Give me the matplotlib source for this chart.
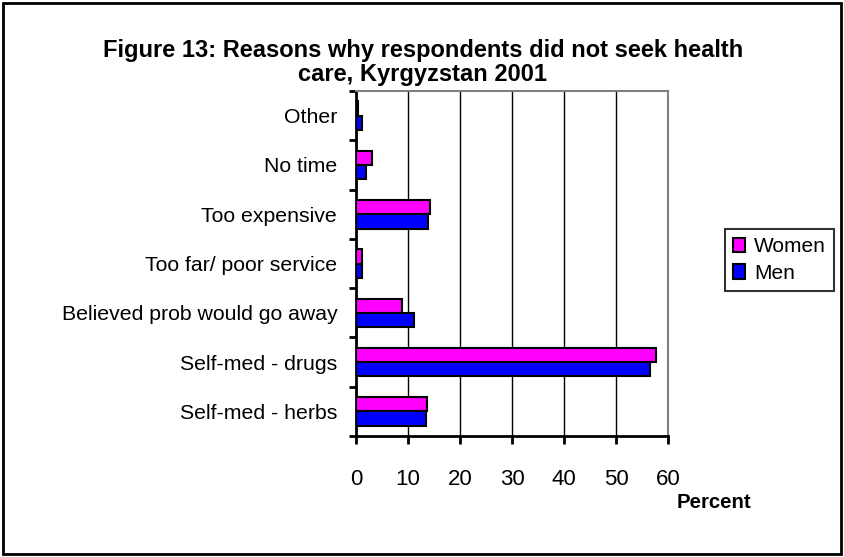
import numpy as np
import matplotlib.pyplot as plt
from matplotlib.patches import Rectangle

plt.rcParams['font.family'] = ['Liberation Sans', 'DejaVu Sans']

# categories listed bottom to top
categories = ['Self-med - herbs', 'Self-med - drugs', 'Believed prob would go away',
              'Too far/ poor service', 'Too expensive', 'No time', 'Other']
women = [13.7, 57.7, 8.8, 1.1, 14.2, 3.1, 0.3]
men = [13.4, 56.5, 11.2, 1.2, 13.8, 1.9, 1.1]
xticks = [0, 10, 20, 30, 40, 50, 60]

W, H = 844, 557
fig = plt.figure(figsize=(W / 100, H / 100), dpi=100)
ax = fig.add_axes([0.4218, 0.2172, 0.3697, 0.6194])

y = np.arange(len(categories))
h = 0.29
ax.barh(y + h / 2, women, height=h, color='#FF00FF', edgecolor='black', linewidth=1.5,
        label='Women', zorder=3)
ax.barh(y - h / 2, men, height=h, color='#0000FF', edgecolor='black', linewidth=1.5,
        label='Men', zorder=3)

ax.set_xlim(0, 60)
ax.set_ylim(-0.5, len(categories) - 0.5)
ax.set_xticks(xticks)
ax.set_xticklabels([str(t) for t in xticks], fontsize=16)
ax.tick_params(axis='x', length=6, width=2, direction='out', pad=18)

# category labels centred, ticks on the band boundaries
ax.set_yticks(np.arange(len(categories) + 1) - 0.5)
ax.set_yticklabels([])
ax.set_yticks(y, minor=True)
ax.set_yticklabels(categories, minor=True, fontsize=15.3)
ax.tick_params(axis='y', which='major', length=5, width=2, direction='out')
ax.tick_params(axis='y', which='minor', length=0, pad=13.5)

ax.grid(axis='x', color='black', linewidth=1, zorder=0)
for s in ['left', 'bottom']:
    ax.spines[s].set_linewidth(2)
    ax.spines[s].set_color('black')
for s in ['top', 'right']:
    ax.spines[s].set_linewidth(1.5)
    ax.spines[s].set_color('#808080')

fig.text(0.5008, 1 - 56.7 / H, 'Figure 13: Reasons why respondents did not seek health',
         ha='center', va='baseline', fontsize=17, fontweight='bold')
fig.text(0.5008, 1 - 81 / H, 'care, Kyrgyzstan 2001',
         ha='center', va='baseline', fontsize=17, fontweight='bold')
fig.text(677 / W, 1 - 502 / H, 'Percent', ha='left', va='center', fontsize=14.7,
         fontweight='bold')

handles, labels = ax.get_legend_handles_labels()
leg = fig.legend(handles, labels, loc='upper left', bbox_to_anchor=(725 / W, 1 - 229 / H),
                 fontsize=15, frameon=True, fancybox=False, edgecolor='black',
                 handlelength=0.55, handleheight=0.7, handletextpad=0.45,
                 borderpad=0.4, labelspacing=0.35, borderaxespad=0)
leg.get_frame().set_linewidth(1.5)

# outer chart border
fig.patches.append(Rectangle((0.004, 0.006), 0.992, 0.988, transform=fig.transFigure,
                             fill=False, edgecolor='black', linewidth=2))

fig.savefig('out.png', dpi=100)
